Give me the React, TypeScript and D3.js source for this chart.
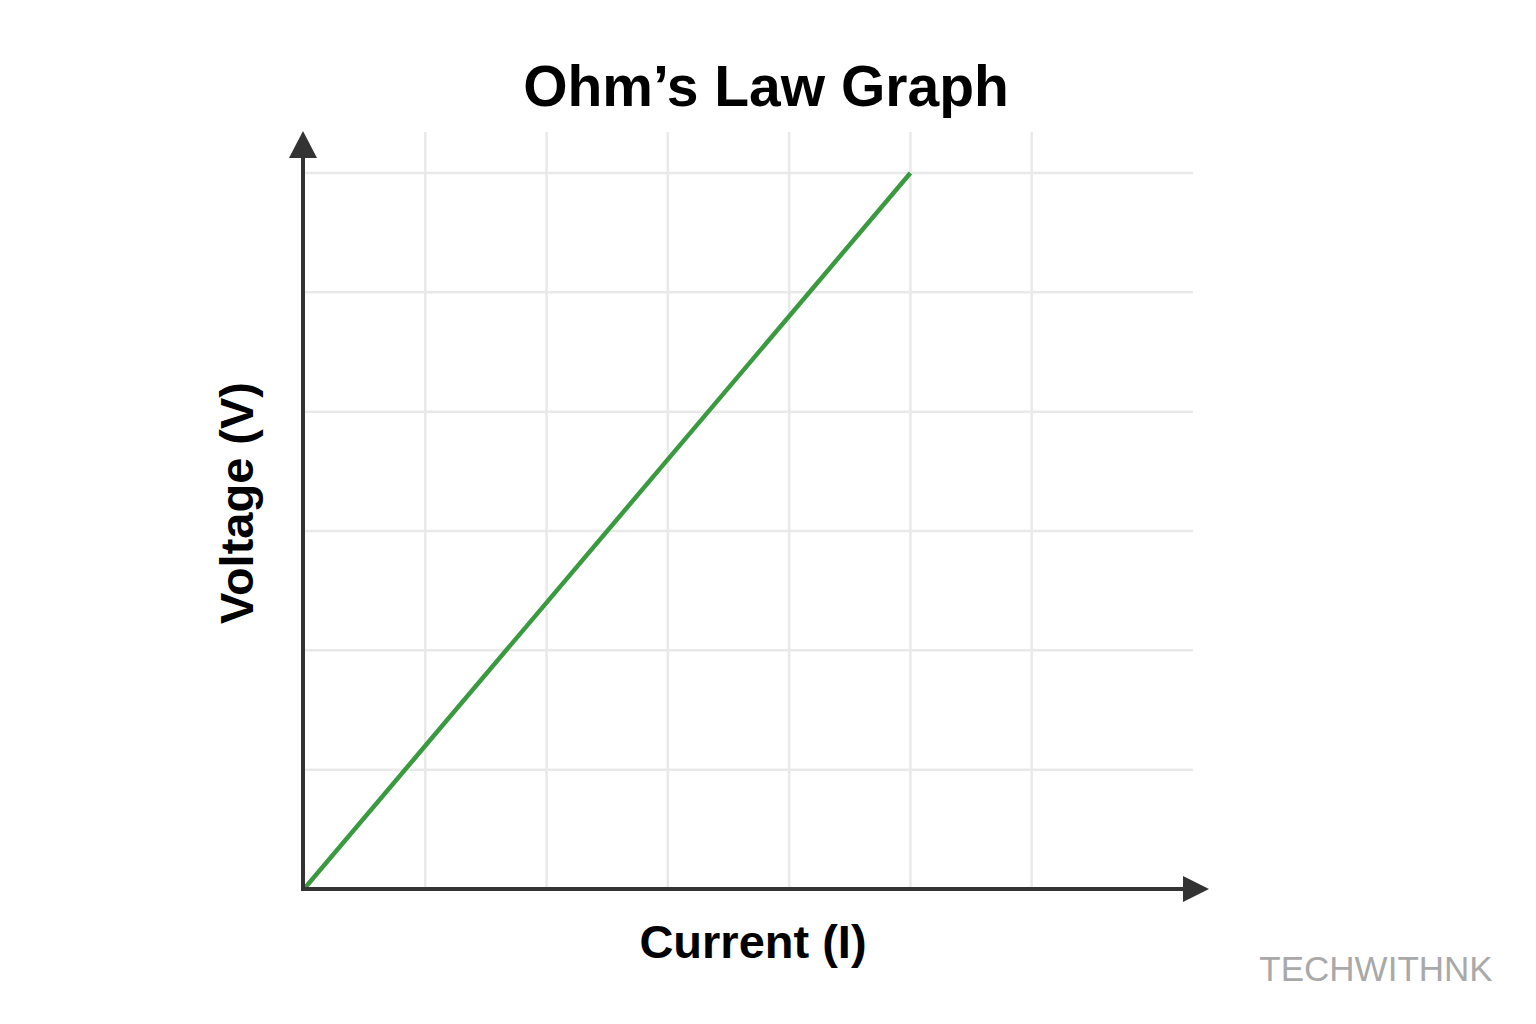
import React from "react";
import * as d3 from "d3";

const currentValues = [0, 1, 2, 3, 4, 5];
const voltageValues = [0, 1.2, 2.4, 3.6, 4.8, 6];
const xGridTicks = [1, 2, 3, 4, 5, 6];
const yGridTicks = [1, 2, 3, 4, 5, 6];
const titleText = "Ohm\u2019s Law Graph";
const xLabel = "Current (I)";
const yLabel = "Voltage (V)";
const watermark = "TECHWITHNK";

const W = 1536;
const H = 1024;
const FONT = "'Liberation Sans', Arial, Helvetica, sans-serif";

export default function App() {
  const x = d3.scaleLinear().domain([0, 7.33]).range([304, 1193]);
  const y = d3.scaleLinear().domain([0, 6]).range([889, 173]);
  const yTop = y.invert(132);

  const pts = currentValues.map((c, i) => [c, voltageValues[i]] as [number, number]);
  const line = d3
    .line<[number, number]>()
    .x((d) => x(d[0]))
    .y((d) => y(d[1]));

  const x0 = x(0) - 1;
  const y0 = y(0);
  const xEnd = x.range()[1];
  const yEnd = y(yTop);

  return (
    <svg
      width={W}
      height={H}
      viewBox={`0 0 ${W} ${H}`}
      style={{ position: "absolute", left: 0, top: 0, background: "#fff" }}
    >
      <rect x={0} y={0} width={W} height={H} fill="#fff" />
      <text
        x={766}
        y={106}
        textAnchor="middle"
        fontFamily={FONT}
        fontWeight="bold"
        fontSize={57}
        fill="#000"
      >
        {titleText}
      </text>

      {/* grid */}
      <g stroke="#e9e9e9" strokeWidth={2.5}>
        {xGridTicks.map((t) => (
          <line key={"vx" + t} x1={x(t)} x2={x(t)} y1={y0} y2={yEnd} />
        ))}
        {yGridTicks.map((t) => (
          <line key={"hy" + t} x1={x0} x2={xEnd} y1={y(t)} y2={y(t)} />
        ))}
      </g>

      {/* data line */}
      <path
        d={line(pts) || ""}
        fill="none"
        stroke="#3a9a40"
        strokeWidth={4.5}
        strokeLinecap="butt"
      />

      {/* axes */}
      <g stroke="#333" strokeWidth={4} fill="none">
        <line x1={x0} x2={x0} y1={y0 + 2} y2={yEnd + 24} />
        <line x1={x0 - 2} x2={xEnd - 8} y1={y0} y2={y0} />
      </g>
      <path
        d={`M${x0},${yEnd - 1} L${x0 - 14},${yEnd + 26} L${x0 + 14},${yEnd + 26} Z`}
        fill="#333"
      />
      <path
        d={`M${xEnd + 16},${y0} L${xEnd - 10},${y0 - 13} L${xEnd - 10},${y0 + 13} Z`}
        fill="#333"
      />

      <text
        x={753}
        y={958}
        textAnchor="middle"
        fontFamily={FONT}
        fontWeight="bold"
        fontSize={47}
        fill="#000"
      >
        {xLabel}
      </text>
      <text
        transform={`translate(253,503) rotate(-90)`}
        textAnchor="middle"
        fontFamily={FONT}
        fontWeight="bold"
        fontSize={47}
        fill="#000"
      >
        {yLabel}
      </text>
      <text
        x={1376}
        y={981}
        textAnchor="middle"
        fontFamily={FONT}
        fontSize={35}
        fill="#a9a9a9"
      >
        {watermark}
      </text>
    </svg>
  );
}
